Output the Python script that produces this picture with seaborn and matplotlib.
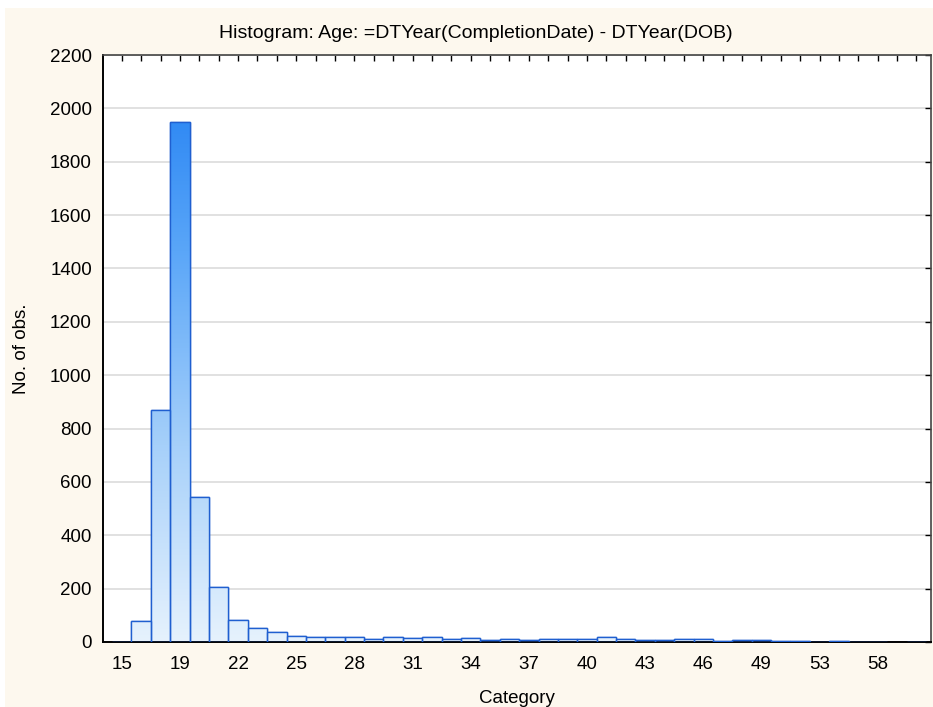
import numpy as np
import pandas as pd
import matplotlib
matplotlib.use("Agg")
import matplotlib.pyplot as plt
from matplotlib.colors import LinearSegmentedColormap
from matplotlib.patches import Rectangle
import seaborn as sns

sns.set_style("white")
plt.rcParams['font.family'] = ['Liberation Sans', 'DejaVu Sans']
plt.rcParams['text.color'] = 'black'
plt.rcParams['axes.labelcolor'] = 'black'
plt.rcParams['xtick.color'] = 'black'
plt.rcParams['ytick.color'] = 'black'

# ages found in the data (each is its own category)
ages = [15, 17, 18, 19, 20, 21, 22, 23, 24, 25, 26, 27, 28, 29, 30, 31, 32, 33,
        34, 35, 36, 37, 38, 39, 40, 41, 42, 43, 44, 45, 46, 47, 48, 49, 50, 51,
        53, 54, 56, 58, 60, 62]
counts = [1, 80, 870, 1950, 545, 207, 83, 52, 37, 24, 20, 17, 20, 13, 17, 14, 17, 13,
          16, 9, 10, 8, 13, 11, 10, 17, 12, 8, 9, 11, 10, 5, 7, 7, 2, 4,
          1, 3, 1, 1, 0, 1]
yticks = list(range(0, 2201, 200))

df = pd.DataFrame({"Category": [str(a) for a in ages], "n": counts})

fig = plt.figure(figsize=(9.33, 7.07), dpi=100, facecolor="white")
fig.patches.append(Rectangle((5/933, 0), 1, 1 - 8/707, transform=fig.transFigure,
                             facecolor="#fdf8ee", edgecolor="none", zorder=-10))
ax = fig.add_axes([103/933, 1 - 642/707, 828/933, 587/707])
ax.set_facecolor("white")

ax.yaxis.grid(True, color="#dcdcdc", lw=1.2)
ax.set_axisbelow(True)

sns.barplot(data=df, x="Category", y="n", order=df["Category"], width=1.0,
            color="#d8eafc", edgecolor="#1f5fd0", linewidth=1.0, ax=ax, zorder=2)

# vertical gradient fill, darker with height
cmap = LinearSegmentedColormap.from_list("g", ["#e6f2fd", "#a6d0fa", "#5aa6f8", "#1c7cf2"])
grad = np.linspace(0, 1, 256).reshape(-1, 1)
for p in ax.patches:
    x0, y0 = p.get_x(), p.get_y()
    w, h = p.get_width(), p.get_height()
    if h <= 0:
        continue
    im = ax.imshow(grad, cmap=cmap, origin="lower", aspect="auto",
                   extent=[x0, x0 + w, 0, 2200], zorder=2.5, interpolation="bilinear")
    im.set_clip_path(p)
    ax.add_patch(Rectangle((x0, y0), w, h, facecolor="none", edgecolor="#1f5fd0",
                           lw=1.0, zorder=3))

ax.set_xlim(-0.97, 41.75)
ax.set_ylim(0, 2200)
ax.set_yticks(yticks)
ax.set_xticks(range(len(ages)))
ax.set_xticklabels([str(a) if i % 3 == 0 else "" for i, a in enumerate(ages)])
ax.tick_params(axis="both", which="major", direction="in", length=4, width=1,
               labelsize=13.5, top=True, right=True, pad=8)
ax.tick_params(axis="x", pad=10)

for s in ["left", "bottom"]:
    ax.spines[s].set_color("black")
    ax.spines[s].set_linewidth(1.4)
for s in ["top", "right"]:
    ax.spines[s].set_color("#444444")
    ax.spines[s].set_linewidth(1.2)

ax.set_xlabel("Category", fontsize=13.5, labelpad=12)
ax.set_ylabel("No. of obs.", fontsize=13.5, labelpad=14)
fig.text(476/933, 1 - 33/707, "Histogram: Age: =DTYear(CompletionDate) - DTYear(DOB)",
         fontsize=14, ha="center", va="center")

fig.savefig("out.png", dpi=100, facecolor=fig.get_facecolor())
